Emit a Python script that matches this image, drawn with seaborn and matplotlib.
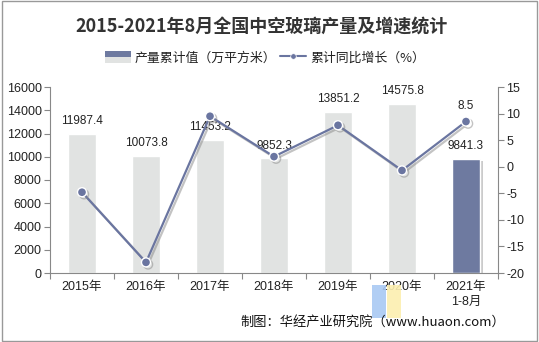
import matplotlib
matplotlib.use("Agg")
import matplotlib.pyplot as plt
import seaborn as sns
import pandas as pd
import numpy as np
from matplotlib.patches import Rectangle, Patch
from matplotlib.lines import Line2D
from matplotlib.legend_handler import HandlerBase
import matplotlib.patheffects as pe

categories = ["2015年", "2016年", "2017年", "2018年", "2019年", "2020年", "2021年\n1-8月"]
production = [11987.4, 10073.8, 11453.2, 9852.3, 13851.2, 14575.8, 9841.3]
growth = [-4.8, -18.0, 9.5, 1.9, 7.8, -0.7, 8.5]
left_ticks = [0, 2000, 4000, 6000, 8000, 10000, 12000, 14000, 16000]
right_ticks = [-20, -15, -10, -5, 0, 5, 10, 15]

LIGHT = "#E1E3E2"
DARK = "#6E7AA0"
LINE = "#6A75A0"
TXT = "#222222"

sns.set_theme(style="white")
plt.rcParams['font.family'] = ['Liberation Sans', 'Noto Sans CJK SC', 'DejaVu Sans']

fig = plt.figure(figsize=(5.39, 3.42), dpi=100)
ax = fig.add_axes([50/539, 1-273/342, (498-50)/539, (273-87)/342])

df = pd.DataFrame({"cat": categories, "prod": production})
palette = [LIGHT]*(len(categories)-1) + [DARK]
sns.barplot(data=df, x="cat", y="prod", hue="cat", palette=palette, legend=False,
            width=0.45, ax=ax, saturation=1)
# shadow on last bar
last = ax.patches[-1]
last.set_path_effects([pe.SimplePatchShadow(offset=(2, -2), shadow_rgbFace="#999999", alpha=0.5), pe.Normal()])

ax.set_ylim(0, 16000)
ax.set_xlim(-0.5, len(categories)-0.5)
ax.set_yticks(left_ticks)
ax.set_yticklabels([str(t) for t in left_ticks], fontsize=9, color=TXT)
ax.set_xlabel("")
ax.set_ylabel("")

for i, v in enumerate(production):
    ax.annotate(f"{v:.1f}", (i, v), xytext=(0, 9), textcoords="offset points",
                ha="center", va="center", fontsize=8.5, color=TXT)

ax2 = ax.twinx()
ax2.set_position(ax.get_position())
sns.pointplot(x=categories, y=growth, ax=ax2, color=LINE, markers="o",
              linewidth=1.6, markersize=6.5, markeredgecolor="white", markeredgewidth=1.0)
for ln in ax2.lines:
    ln.set_path_effects([pe.SimpleLineShadow(offset=(1.5, -1.5), shadow_color="#888888", alpha=0.5), pe.Normal()])
ax2.set_ylim(-20, 15)
ax2.set_xlim(-0.5, len(categories)-0.5)
ax2.set_yticks(right_ticks)
ax2.set_yticklabels([str(t) for t in right_ticks], fontsize=9, color=TXT)
ax2.set_ylabel("")
ax2.annotate(f"{growth[-1]}", (len(categories)-1, growth[-1]), xytext=(0, 11),
             textcoords="offset points", ha="center", va="center", fontsize=8.5, color=TXT)

# ticks
n = len(categories)
ax.set_xticks(range(n))
ax.set_xticklabels(categories, fontsize=9, color=TXT, linespacing=1.3)
ax.set_xticks(np.arange(-0.5, n, 1.0), minor=True)
ax.tick_params(axis="x", which="major", length=0, pad=6)
ax.tick_params(axis="x", which="minor", length=4, color="#888888", width=0.8, direction="out", bottom=True)
ax.tick_params(axis="y", length=4, color="#888888", width=0.8, direction="out", left=True, pad=2)
ax2.tick_params(axis="y", length=4, color="#888888", width=0.8, direction="out", right=True, pad=2)

for a in (ax, ax2):
    a.spines["top"].set_visible(False)
    for s in ["left", "right", "bottom"]:
        a.spines[s].set_color("#888888")
        a.spines[s].set_linewidth(0.8)
ax.spines["right"].set_visible(False)
ax2.spines["left"].set_visible(False)
ax2.spines["bottom"].set_visible(False)
ax.grid(False); ax2.grid(False)

# title
fig.text(262/539, 1-27/342, "2015-2021年8月全国中空玻璃产量及增速统计", ha="center", va="center",
         fontsize=13, fontweight="bold", color="#333333", family=['Noto Sans CJK SC'])

# legend
class TwoTone(HandlerBase):
    def create_artists(self, legend, orig_handle, xdescent, ydescent, width, height, fontsize, trans):
        r1 = Rectangle((-xdescent, -ydescent + height/2), width, height/2, fc=DARK, ec="none", transform=trans)
        r2 = Rectangle((-xdescent, -ydescent), width, height/2, fc=LIGHT, ec="none", transform=trans)
        return [r1, r2]

bar_h = Patch(facecolor=LIGHT)
line_h = Line2D([], [], color=LINE, marker="o", markersize=4, linewidth=1.5,
                markeredgecolor="white", markeredgewidth=0.5)
leg = fig.legend([bar_h, line_h], ["产量累计值（万平方米）", "累计同比增长（%）"],
                 handler_map={bar_h: TwoTone()}, loc="center", bbox_to_anchor=(265/539, 1-58/342),
                 ncol=2, frameon=False, handlelength=2.0, handleheight=1.0,
                 handletextpad=0.3, columnspacing=0.3, prop={'family': ['Noto Sans CJK SC'], 'size': 9.3})
for t in leg.get_texts():
    t.set_color(TXT)

# watermark (logo blocks)
fig.patches.append(Rectangle((372/539, 1-318/342), 14/539, 33/342, transform=fig.transFigure,
                             fc="#A9C9F3", ec="none", alpha=0.9, zorder=0))
fig.patches.append(Rectangle((387/539, 1-318/342), 14/539, 33/342, transform=fig.transFigure,
                             fc="#FCEFB0", ec="none", alpha=0.9, zorder=0))

# source
fig.text(505/539, 1-322/342, "制图：华经产业研究院（www.huaon.com）", ha="right", va="center",
         fontsize=9.5, color="#111111", family=['Noto Sans CJK SC'])

# border
fig.patches.append(Rectangle((0.003, 0.004), 0.994, 0.992, transform=fig.transFigure,
                             fill=False, ec="#999999", lw=1.0))

fig.savefig("out.png", dpi=100)
